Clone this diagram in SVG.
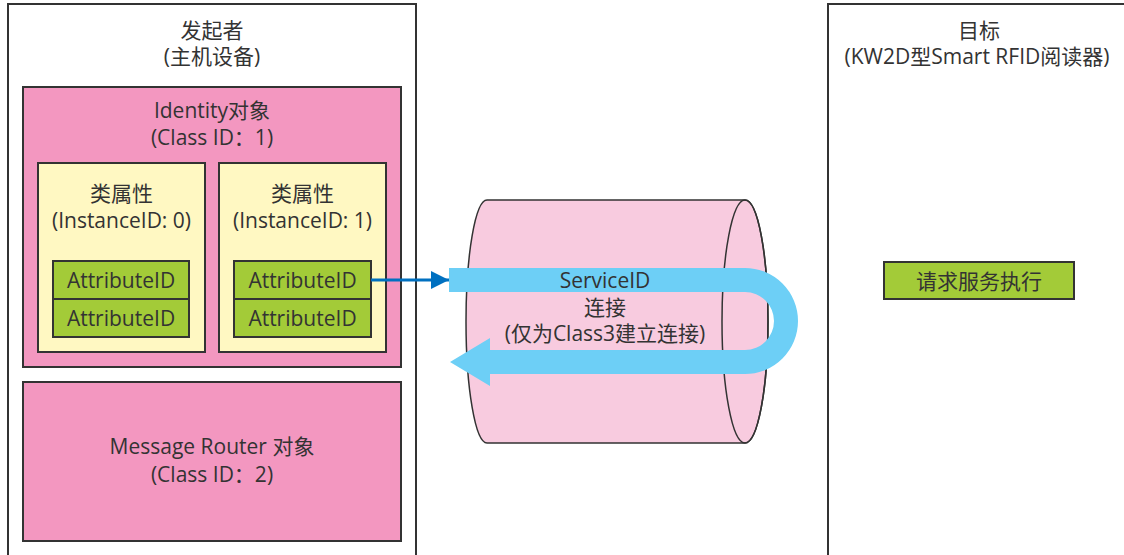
<svg xmlns="http://www.w3.org/2000/svg" width="1124" height="555" viewBox="0 0 1124 555">
<style>
text{font-family:"Open Sans","Noto Sans CJK SC",sans-serif;font-size:21px;fill:#333;text-anchor:middle}
.frame{fill:#fff;stroke:#333;stroke-width:2}
.pink{fill:#f397c0;stroke:#333;stroke-width:2}
.yellow{fill:#fff8c2;stroke:#333;stroke-width:2}
.green{fill:#a3cb38;stroke:#333;stroke-width:2}
.cyl{fill:#f8cbdf;stroke:#333;stroke-width:1.5}
</style>
<defs>
<marker id="ah" markerWidth="6" markerHeight="6" refX="6" refY="3" orient="auto" markerUnits="strokeWidth"><path d="M0,0 L6,3 L0,6 Z" fill="#0070c0"/></marker>
</defs>
<rect width="1124" height="555" fill="#fff"/>
<g id="initiator">
<rect class="frame" x="8" y="4" width="408" height="560"/>
<text x="212" y="38">发起者</text>
<text x="212" y="64">(主机设备)</text>
</g>
<g id="identity">
<rect class="pink" x="23" y="87" width="378" height="280"/>
<text x="212" y="118">Identity对象</text>
<text x="212" y="145">(Class ID：1)</text>
</g>
<g id="inst0">
<rect class="yellow" x="38" y="163" width="167" height="189"/>
<text x="121.5" y="201">类属性</text>
<text x="121.5" y="228">(InstanceID: 0)</text>
</g>
<g id="attr0a"><rect class="green" x="53" y="261" width="136" height="38"/><text x="121" y="288">AttributeID</text></g>
<g id="attr0b"><rect class="green" x="53" y="299" width="136" height="38"/><text x="121" y="326">AttributeID</text></g>
<g id="inst1">
<rect class="yellow" x="219" y="163" width="167" height="189"/>
<text x="302.5" y="201">类属性</text>
<text x="302.5" y="228">(InstanceID: 1)</text>
</g>
<g id="attr1a"><rect class="green" x="234" y="261" width="137" height="38"/><text x="302.5" y="288">AttributeID</text></g>
<g id="attr1b"><rect class="green" x="234" y="299" width="137" height="38"/><text x="302.5" y="326">AttributeID</text></g>
<g id="router">
<rect class="pink" x="23" y="382" width="378" height="159"/>
<text x="212" y="454">Message Router 对象</text>
<text x="212" y="482">(Class ID：2)</text>
</g>
<g id="connection">
<path class="cyl" d="M487,200 H745 A23,121.5 0 0 1 745,443 H487 A21,121.5 0 0 1 487,200 Z"/>
<ellipse cx="745" cy="321.5" rx="23" ry="121.5" fill="none" stroke="#333" stroke-width="1.5"/>
<path d="M449,268 H745 A53,53 0 0 1 745,374 H490 V386 L450,362 L490,338 V350 H745 A29,29 0 0 0 745,292 H449 Z" fill="#6dcff6"/>
<text x="605" y="288">ServiceID</text>
<text x="605" y="314.5">连接</text>
<text x="605" y="341">(仅为Class3建立连接)</text>
</g>
<g id="target">
<rect class="frame" x="828" y="4" width="320" height="560"/>
<text x="979" y="38">目标</text>
<text x="977" y="64">(KW2D型Smart RFID阅读器)</text>
</g>
<g id="execute">
<rect class="green" x="884" y="262" width="190" height="37"/>
<text x="979" y="289">请求服务执行</text>
</g>
<g id="connectors">
<line x1="371" y1="280" x2="449" y2="280" stroke="#0070c0" stroke-width="3" marker-end="url(#ah)"/>
</g>
</svg>
